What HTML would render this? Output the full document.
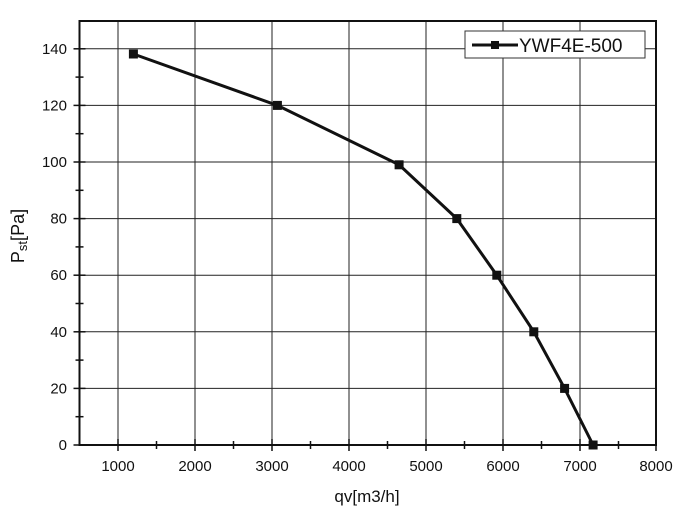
<!DOCTYPE html>
<html><head><style>body{margin:0;background:#fff}</style></head><body>
<svg width="686" height="521" xmlns="http://www.w3.org/2000/svg" font-family="Liberation Sans, sans-serif">
<rect width="686" height="521" fill="#fff"/>
<g stroke="#222" stroke-width="1">
<line x1="118" y1="21" x2="118" y2="445"/><line x1="195" y1="21" x2="195" y2="445"/><line x1="272" y1="21" x2="272" y2="445"/><line x1="349" y1="21" x2="349" y2="445"/><line x1="426" y1="21" x2="426" y2="445"/><line x1="503" y1="21" x2="503" y2="445"/><line x1="580" y1="21" x2="580" y2="445"/>
<line x1="79.5" y1="388.4" x2="656" y2="388.4"/><line x1="79.5" y1="331.8" x2="656" y2="331.8"/><line x1="79.5" y1="275.2" x2="656" y2="275.2"/><line x1="79.5" y1="218.6" x2="656" y2="218.6"/><line x1="79.5" y1="162" x2="656" y2="162"/><line x1="79.5" y1="105.4" x2="656" y2="105.4"/><line x1="79.5" y1="48.8" x2="656" y2="48.8"/>
</g>
<rect x="79.5" y="21" width="576.5" height="424" fill="none" stroke="#111" stroke-width="2"/>
<g stroke="#111" stroke-width="1.5">
<line x1="118" y1="439" x2="118" y2="451"/><line x1="195" y1="439" x2="195" y2="451"/><line x1="272" y1="439" x2="272" y2="451"/><line x1="349" y1="439" x2="349" y2="451"/><line x1="426" y1="439" x2="426" y2="451"/><line x1="503" y1="439" x2="503" y2="451"/><line x1="580" y1="439" x2="580" y2="451"/><line x1="656" y1="439" x2="656" y2="451"/>
<line x1="156.5" y1="441" x2="156.5" y2="449"/><line x1="233.5" y1="441" x2="233.5" y2="449"/><line x1="310.5" y1="441" x2="310.5" y2="449"/><line x1="387.5" y1="441" x2="387.5" y2="449"/><line x1="464.5" y1="441" x2="464.5" y2="449"/><line x1="541.5" y1="441" x2="541.5" y2="449"/><line x1="618.5" y1="441" x2="618.5" y2="449"/>
<line x1="73.5" y1="445" x2="85.5" y2="445"/><line x1="73.5" y1="388.4" x2="85.5" y2="388.4"/><line x1="73.5" y1="331.8" x2="85.5" y2="331.8"/><line x1="73.5" y1="275.2" x2="85.5" y2="275.2"/><line x1="73.5" y1="218.6" x2="85.5" y2="218.6"/><line x1="73.5" y1="162" x2="85.5" y2="162"/><line x1="73.5" y1="105.4" x2="85.5" y2="105.4"/><line x1="73.5" y1="48.8" x2="85.5" y2="48.8"/>
<line x1="75.5" y1="416.7" x2="83.5" y2="416.7"/><line x1="75.5" y1="360.1" x2="83.5" y2="360.1"/><line x1="75.5" y1="303.5" x2="83.5" y2="303.5"/><line x1="75.5" y1="246.9" x2="83.5" y2="246.9"/><line x1="75.5" y1="190.3" x2="83.5" y2="190.3"/><line x1="75.5" y1="133.7" x2="83.5" y2="133.7"/><line x1="75.5" y1="77.1" x2="83.5" y2="77.1"/>
</g>
<g font-size="15" text-anchor="middle" fill="#111">
<text x="118" y="471">1000</text><text x="195" y="471">2000</text><text x="272" y="471">3000</text><text x="349" y="471">4000</text><text x="426" y="471">5000</text><text x="503" y="471">6000</text><text x="580" y="471">7000</text><text x="656" y="471">8000</text>
</g>
<g font-size="15" text-anchor="end" fill="#111">
<text x="67" y="450">0</text><text x="67" y="393.4">20</text><text x="67" y="336.8">40</text><text x="67" y="280.2">60</text><text x="67" y="223.6">80</text><text x="67" y="167">100</text><text x="67" y="110.4">120</text><text x="67" y="53.8">140</text>
</g>
<polyline fill="none" stroke="#111" stroke-width="3" points="133.4,54 277.4,105.4 399.1,164.8 456.8,218.6 496.8,275.2 533.8,331.8 564.6,388.4 593.1,445"/>
<g fill="#111">
<rect x="128.9" y="49.5" width="9" height="9"/><rect x="272.9" y="100.9" width="9" height="9"/><rect x="394.6" y="160.3" width="9" height="9"/><rect x="452.3" y="214.1" width="9" height="9"/><rect x="492.3" y="270.7" width="9" height="9"/><rect x="529.3" y="327.3" width="9" height="9"/><rect x="560.1" y="383.9" width="9" height="9"/><rect x="588.6" y="440.5" width="9" height="9"/>
</g>
<rect x="465" y="31" width="180" height="27" fill="#fff" stroke="#333" stroke-width="1"/>
<line x1="472" y1="45" x2="518" y2="45" stroke="#111" stroke-width="3"/><rect x="491" y="41" width="8" height="8" fill="#111"/>
<text x="519" y="52" font-size="19" fill="#111">YWF4E-500</text>
<text x="367" y="502" font-size="17" text-anchor="middle" fill="#111">qv[m3/h]</text>
<text transform="translate(24,236) rotate(-90)" font-size="18" text-anchor="middle" fill="#111">P<tspan font-size="13" dy="3">st</tspan><tspan dy="-3">[Pa]</tspan></text>
</svg>
</body></html>
